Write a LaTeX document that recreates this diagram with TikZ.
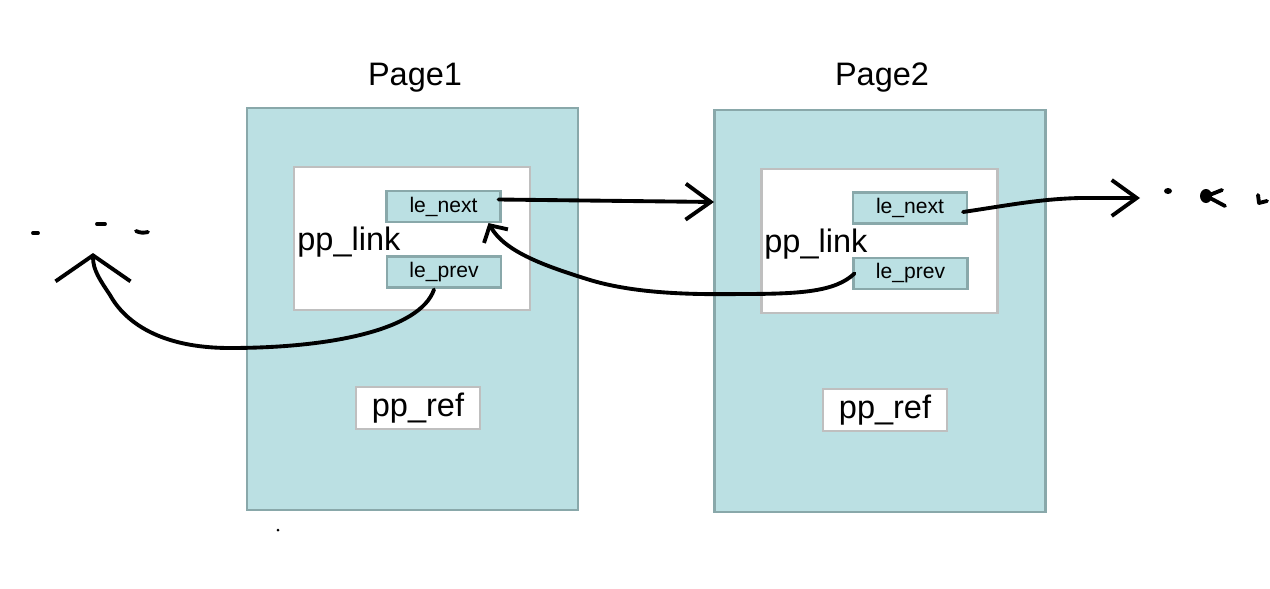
\documentclass[tikz,border=0pt]{standalone}
\usepackage{fontspec}
\setmainfont{Liberation Sans}
\usetikzlibrary{arrows.meta}
\definecolor{pagefill}{RGB}{187,224,227}
\definecolor{pageline}{RGB}{137,168,170}
\definecolor{boxline}{RGB}{191,191,191}
\begin{document}
\begin{tikzpicture}[
  x=0.02cm, y=-0.02cm,
  big/.style={font=\fontsize{18.5}{21}\selectfont},
  page/.style={draw=pageline, line width=1.2pt, fill=pagefill, inner sep=0pt, minimum width=6.62cm, minimum height=8.04cm},
  linkbox/.style={draw=boxline, line width=1.2pt, fill=white, inner sep=0pt, minimum width=4.72cm, minimum height=2.87cm},
  field/.style={draw=pageline, line width=1.2pt, fill=pagefill, inner sep=0pt, minimum width=2.28cm, minimum height=0.62cm, font=\fontsize{12}{14}\selectfont},
  refbox/.style={draw=boxline, line width=1.2pt, fill=white, inner sep=0pt, minimum width=2.48cm, minimum height=0.84cm, big},
  pen/.style={line width=2.2pt, line cap=round, line join=round},
  bighead/.style={pen, -{Straight Barb[length=0.5cm, width=0.72cm, line width=2.2pt]}},
  widehead/.style={pen, -{Straight Barb[length=0.52cm, width=1.5cm, line width=2.2pt]}},
  smallhead/.style={pen, -{Straight Barb[length=0.25cm, width=0.55cm, line width=2.2pt]}},
]
\useasboundingbox (0,0) rectangle (1270,588);

\node[big, anchor=base] (titleA) at (415,86) {Page1};
\node[big, anchor=base] (titleB) at (882,86) {Page2};

\node[page] (pageA) at (412.5,309) {};
\node[page] (pageB) at (880,311) {};

\node[linkbox] (linkA) at (412,238.5) {};
\node[linkbox] (linkB) at (879.5,241) {};
\node[big, anchor=base west, inner sep=0pt] (nameA) at (297,250) {pp\_link};
\node[big, anchor=base west, inner sep=0pt] (nameB) at (764,252) {pp\_link};

\node[field] (nextA) at (443.5,206.5) {le\_next};
\node[field] (prevA) at (444,272) {le\_prev};
\node[field] (nextB) at (910,208) {le\_next};
\node[field] (prevB) at (910.5,273.5) {le\_prev};

\node[refbox] (refA) at (418,408) {pp\_ref};
\node[refbox] (refB) at (885,410) {pp\_ref};

\coordinate (headB) at (714,202);
\coordinate (headL) at (93,253);
\coordinate (headR) at (1140,198);

\draw[bighead] ([shift={(-3,-7)}]nextA.east) -- (headB);
\draw[smallhead] ([shift={(2,0)}]prevB.west) .. controls (835,292) and (800,294) .. (740,294)
  .. controls (680,295) and (630,292) .. (590,280) .. controls (545,266) and (505,252) .. ([shift={(45,0)}]nextA.south);
\draw[widehead] ([shift={(-10,1)}]prevA.south) .. controls (420,330) and (330,348) .. (230,348)
  .. controls (160,348) and (125,322) .. (110,295) .. controls (100,280) and (93,270) .. (headL);
\draw[bighead] ([shift={(-5,4)}]nextB.east) .. controls (1010,205) and (1040,199) .. (1080,198) -- (headR);

\draw[pen] (33,233) -- (38,233);
\draw[pen] (97,224) -- (105,224);
\draw[pen] (136,231) .. controls (140,233) and (144,233) .. (148,232);
\fill (1168,191) ellipse (4 and 3);
\fill (1206,196) ellipse (6 and 7);
\draw[pen] (1207,196) -- (1222,190);
\draw[pen] (1210,198) -- (1225,206);
\draw[pen] (1258,195) -- (1259,203) -- (1267,201);
\fill (278,530) circle (1.5);
\end{tikzpicture}
\end{document}
